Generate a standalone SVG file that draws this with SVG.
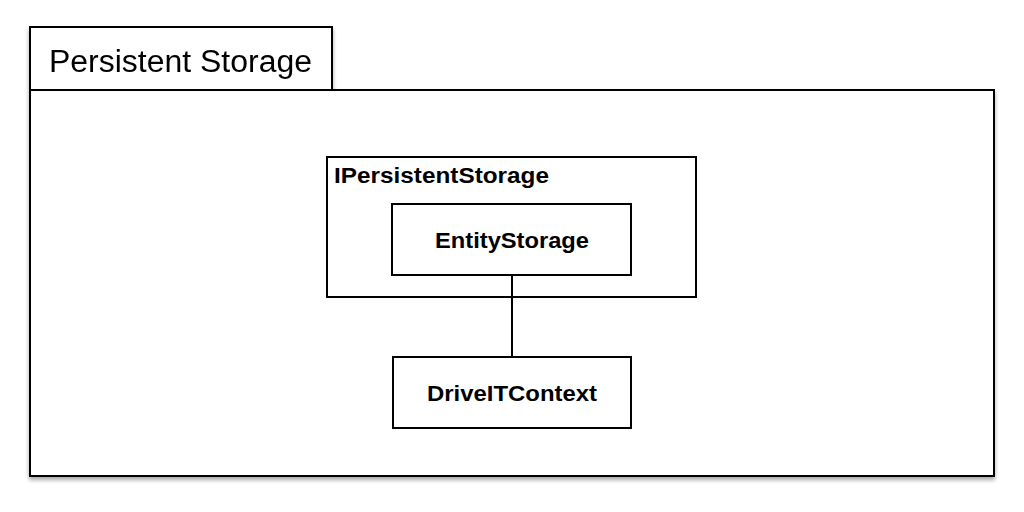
<svg xmlns="http://www.w3.org/2000/svg" width="1024" height="512" viewBox="0 0 1024 512">
<defs>
<filter id="sh" x="-5%" y="-5%" width="110%" height="115%">
<feGaussianBlur in="SourceAlpha" stdDeviation="2"/>
<feOffset dx="0" dy="3" result="b"/>
<feComponentTransfer><feFuncA type="linear" slope="0.35"/></feComponentTransfer>
<feMerge><feMergeNode/><feMergeNode in="SourceGraphic"/></feMerge>
</filter>
</defs>
<style>
.box{fill:#fff;stroke:#000;stroke-width:2}
.t{font-family:"Liberation Sans",Arial,sans-serif;fill:#000}
.b{font-weight:bold;font-size:22px}
</style>
<rect width="1024" height="512" fill="#fff"/>
<g id="package" filter="url(#sh)">
<rect class="box" x="30" y="27" width="302" height="63"/>
<rect class="box" x="30" y="90" width="964" height="386"/>
<text class="t" x="49" y="72" font-size="31" textLength="263" lengthAdjust="spacingAndGlyphs">Persistent Storage</text>
</g>
<g id="IPersistentStorage">
<rect class="box" x="327" y="157" width="369" height="140"/>
<text class="t b" x="334" y="183" textLength="215" lengthAdjust="spacingAndGlyphs">IPersistentStorage</text>
</g>
<g id="EntityStorage">
<rect class="box" x="392" y="204" width="239" height="71"/>
<text class="t b" x="435" y="248" textLength="154" lengthAdjust="spacingAndGlyphs">EntityStorage</text>
</g>
<g id="DriveITContext">
<rect class="box" x="393" y="357" width="238" height="71"/>
<text class="t b" x="427" y="401" textLength="170" lengthAdjust="spacingAndGlyphs">DriveITContext</text>
</g>
<g id="connectors">
<line x1="512" y1="275" x2="512" y2="357" stroke="#000" stroke-width="2"/>
</g>
</svg>
